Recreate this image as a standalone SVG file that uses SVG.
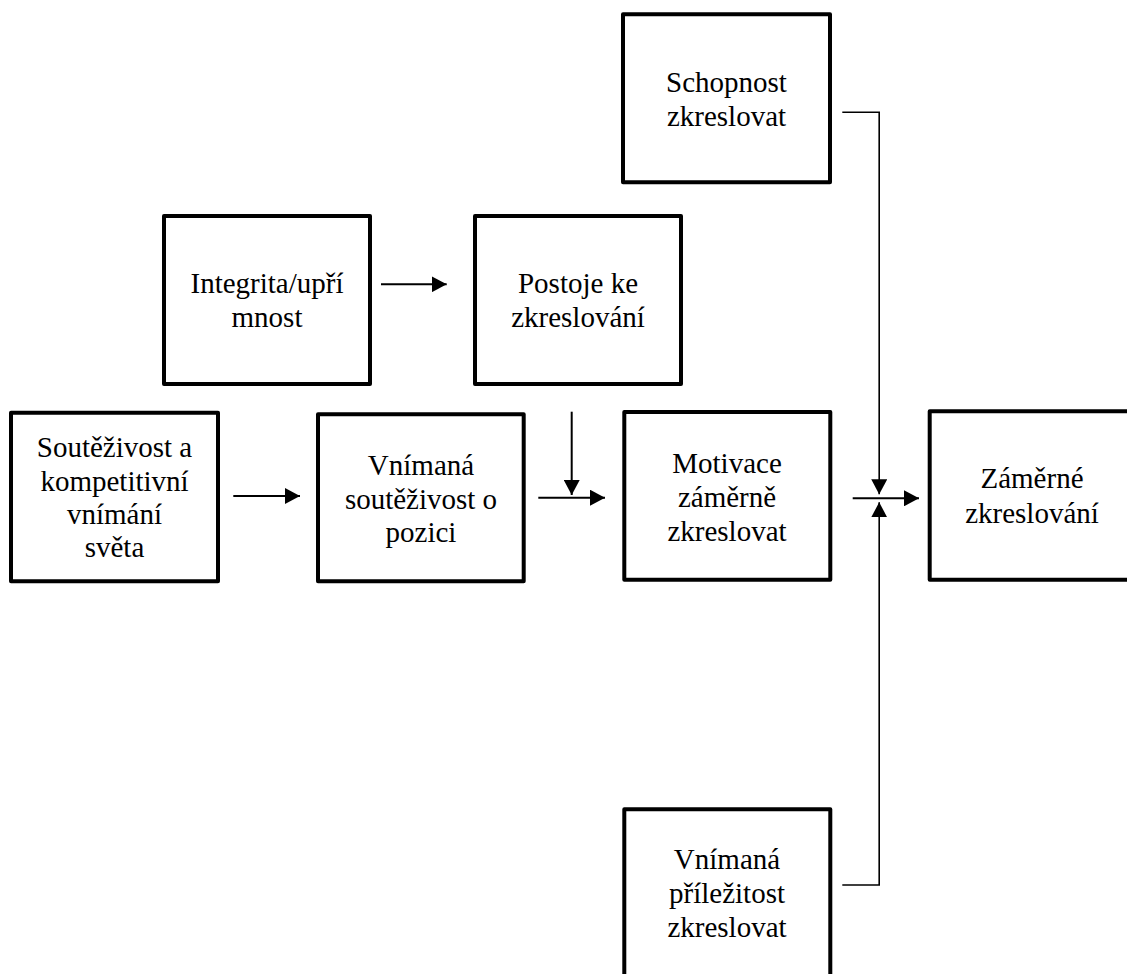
<svg xmlns="http://www.w3.org/2000/svg" width="1127" height="974" viewBox="0 0 1127 974">
<style>
.box{fill:#fff;stroke:#000;stroke-width:4;stroke-linejoin:round}
.lbl{font-family:"Liberation Serif","Times New Roman",serif;font-size:29px;fill:#000;text-anchor:middle}
.c{fill:none;stroke:#000;stroke-width:2}
.c2{fill:none;stroke:#000;stroke-width:1.6}
</style>
<defs>
<marker id="ah" markerUnits="userSpaceOnUse" markerWidth="15" markerHeight="16" refX="15" refY="8" orient="auto">
<path d="M0,0 L15,8 L0,16 z" fill="#000"/>
</marker>
</defs>
<rect width="1127" height="974" fill="#fff"/>
<g id="n-schopnost">
<rect class="box" x="623" y="14.3" width="207" height="168"/>
<text class="lbl" x="726.5" y="92">Schopnost</text>
<text class="lbl" x="726.5" y="126">zkreslovat</text>
</g>
<g id="n-integrita">
<rect class="box" x="164" y="216" width="206" height="168"/>
<text class="lbl" x="267" y="292.5">Integrita/upří</text>
<text class="lbl" x="267" y="327">mnost</text>
</g>
<g id="n-postoje">
<rect class="box" x="475" y="216" width="206" height="168"/>
<text class="lbl" x="578" y="292.5">Postoje ke</text>
<text class="lbl" x="578" y="327">zkreslování</text>
</g>
<g id="n-soutezivost">
<rect class="box" x="11" y="412.7" width="207" height="168.6"/>
<text class="lbl" x="114.5" y="456.7">Soutěživost a</text>
<text class="lbl" x="114.5" y="490.5">kompetitivní</text>
<text class="lbl" x="114.5" y="524">vnímání</text>
<text class="lbl" x="114.5" y="557">světa</text>
</g>
<g id="n-vnimana-soutezivost">
<rect class="box" x="318" y="414.3" width="205.7" height="167"/>
<text class="lbl" x="421" y="475">Vnímaná</text>
<text class="lbl" x="421" y="508.5">soutěživost o</text>
<text class="lbl" x="421" y="542">pozici</text>
</g>
<g id="n-motivace">
<rect class="box" x="624.3" y="412" width="206" height="167.7"/>
<text class="lbl" x="727" y="472.5">Motivace</text>
<text class="lbl" x="727" y="506.5">záměrně</text>
<text class="lbl" x="727" y="540.5">zkreslovat</text>
</g>
<g id="n-zamerne">
<rect class="box" x="929.7" y="411.3" width="205" height="168.4"/>
<text class="lbl" x="1032" y="488.3">Záměrné</text>
<text class="lbl" x="1032" y="522.7">zkreslování</text>
</g>
<g id="n-prilezitost">
<rect class="box" x="624.3" y="809.3" width="206" height="168"/>
<text class="lbl" x="727" y="869">Vnímaná</text>
<text class="lbl" x="727" y="903">příležitost</text>
<text class="lbl" x="727" y="937">zkreslovat</text>
</g>
<g id="connectors">
<line class="c" x1="381" y1="284.3" x2="446.7" y2="284.3" marker-end="url(#ah)"/>
<line class="c" x1="233.3" y1="496" x2="300" y2="496" marker-end="url(#ah)"/>
<line class="c" x1="538.3" y1="497.7" x2="605" y2="497.7" marker-end="url(#ah)"/>
<line class="c" x1="571.7" y1="411.7" x2="571.7" y2="495" marker-end="url(#ah)"/>
<polyline class="c2" points="842.3,112.3 879.2,112.3 879.2,494.3" marker-end="url(#ah)"/>
<line class="c" x1="852.7" y1="498.3" x2="919" y2="498.3" marker-end="url(#ah)"/>
<polyline class="c2" points="842.3,885 879.2,885 879.2,502.3" marker-end="url(#ah)"/>
</g>
</svg>
